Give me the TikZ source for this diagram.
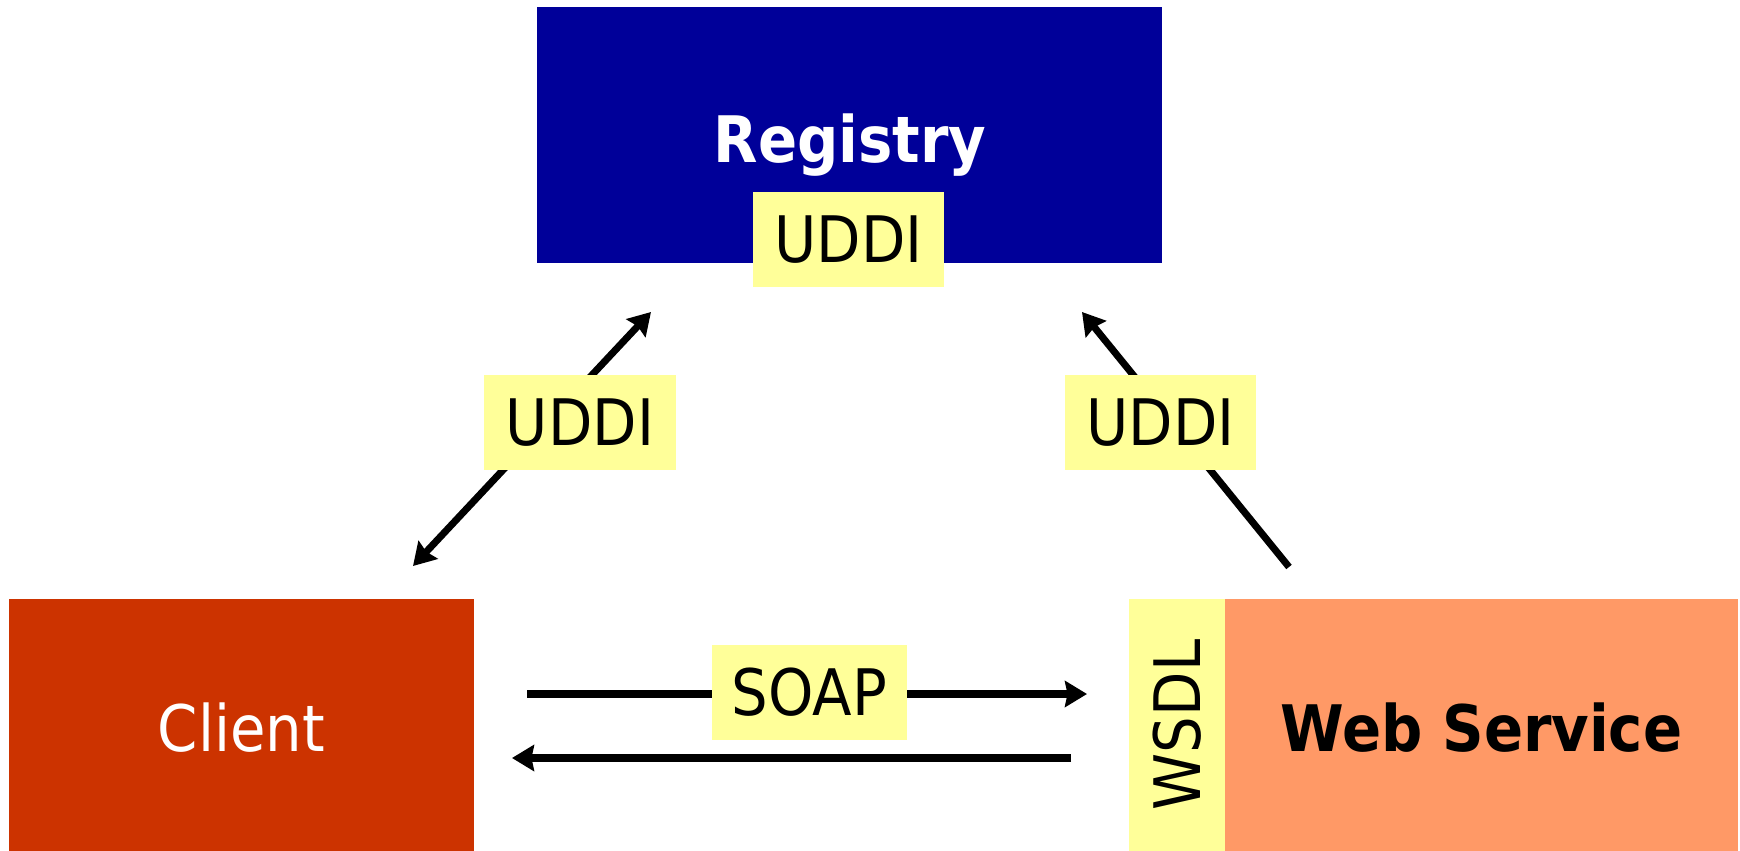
\documentclass[tikz,border=0pt]{standalone}
\usepackage{fontspec}
\setmainfont{DejaVu Sans Condensed}
\usetikzlibrary{arrows.meta, positioning}
\usepackage{xcolor}
\definecolor{regblue}{HTML}{000099}
\definecolor{clired}{HTML}{CC3300}
\definecolor{wsorange}{HTML}{FF9966}
\definecolor{tagyellow}{HTML}{FFFF99}

\tikzset{
	box/.style={inner sep=0pt, outer sep=0pt},
	tag/.style={box, fill=tagyellow, text=black},
	flow/.style={line width=4pt, >={Stealth[length=0.44cm, width=0.52cm, inset=0.05cm]}},
	big/.style={font=\fontsize{36.5}{40}\selectfont},
}

\begin{document}
\begin{tikzpicture}[x=0.02cm, y=-0.02cm]
	\useasboundingbox (0, 0) rectangle (1740, 851);

	% boxes
	\node[box, fill=regblue, minimum width=12.5cm, minimum height=5.12cm] (registry) at (849.5, 135) {};
	\node[box, fill=clired, minimum width=9.3cm, minimum height=5.04cm] (client) at (241.5, 725) {};
	\node[box, fill=tagyellow, minimum width=1.92cm, minimum height=5.04cm] (wsdl) at (1177, 725) {};
	\node[box, fill=wsorange, minimum width=10.26cm, minimum height=5.04cm] (service) at (1481.5, 725) {};
	\node[big, text=white] (clitxt) at (241.5, 728) {Client};
	\node[big, font=\fontsize{36.5}{40}\bfseries] (wstxt) at (1481.5, 728) {Web Service};
	\node[big, rotate=90, anchor=center] (wsdltxt) at (wsdl.center) {WSDL};
	\node[big, font=\fontsize{36.5}{40}\bfseries, text=white, anchor=base] (regtxt) at (850, 163) {Registry};

	% end points of the connectors
	\coordinate (cl-up) at (413, 566);
	\coordinate (reg-left) at (651, 312);
	\coordinate (ws-up) at (1289, 567);
	\coordinate (reg-right) at (1082, 312);
	\coordinate (soap-a) at (527, 694);
	\coordinate (soap-b) at (1087, 694);
	\coordinate (back-a) at (1071, 758);
	\coordinate (back-b) at (512, 758);

	\draw[flow, <->] (cl-up) -- (reg-left);
	\draw[flow, ->] (ws-up) -- (reg-right);
	\draw[flow, ->] (soap-a) -- (soap-b);
	\draw[flow, ->] (back-a) -- (back-b);

	% labels
	\node[tag, big, minimum width=3.82cm, minimum height=1.9cm] (regtag) at (848.5, 239.5) {UDDI};
	\node[tag, big, minimum width=3.84cm, minimum height=1.9cm] (lefttag) at (580, 422.5) {UDDI};
	\node[tag, big, minimum width=3.82cm, minimum height=1.9cm] (righttag) at (1160.5, 422.5) {UDDI};
	\node[tag, big, minimum width=3.9cm, minimum height=1.9cm] (soaptag) at (809.5, 692.5) {SOAP};
\end{tikzpicture}
\end{document}
